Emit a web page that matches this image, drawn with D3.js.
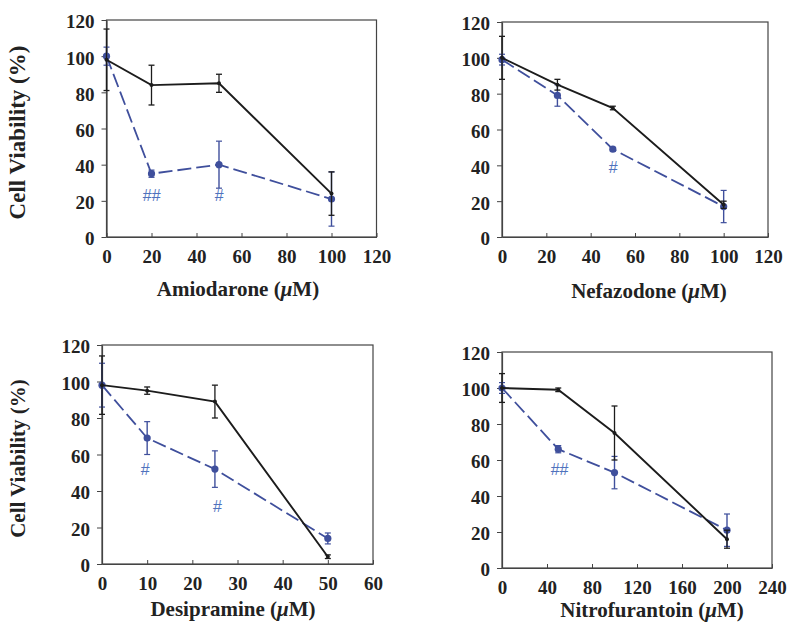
<!DOCTYPE html>
<html>
<head>
<meta charset="utf-8">
<script src="https://cdn.jsdelivr.net/npm/d3@7"></script>
<style>
  body { margin: 0; background: #fff; }
</style>
</head>
<body>
<svg id="chart" width="788" height="623"></svg>
<script>
// dati (valori medi e barre d'errore)
const amioDose = [0, 20, 50, 100];
const amioCtrl = [98, 84, 85, 24];
const amioCtrlErr = [17, 11, 5, 12];
const amioTreat = [100, 35, 40, 21];
const amioTreatErr = [5, 2, 13, 15];
const amioMarks = [{x: 20, y: 20, t: "##"}, {x: 50, y: 20, t: "#"}];

const nefaDose = [0, 25, 50, 100];
const nefaCtrl = [100, 85, 72, 18];
const nefaCtrlErr = [12, 3, 1, 2];
const nefaTreat = [99, 79, 49, 17];
const nefaTreatErr = [3, 6, 1, 9];
const nefaMarks = [{x: 50, y: 36, t: "#"}];

const desiDose = [0, 10, 25, 50];
const desiCtrl = [98, 95, 89, 4];
const desiCtrlErr = [16, 2, 9, 1];
const desiTreat = [98, 69, 52, 14];
const desiTreatErr = [12, 9, 10, 3];
const desiMarks = [{x: 9.5, y: 49, t: "#"}, {x: 25.5, y: 28.5, t: "#"}];

const nitroDose = [0, 50, 100, 200];
const nitroCtrl = [100, 99, 75, 16];
const nitroCtrlErr = [8, 1, 15, 5];
const nitroTreat = [100, 66, 53, 21];
const nitroTreatErr = [3, 2, 9, 9];
const nitroMarks = [{x: 51, y: 51.5, t: "##"}];

const yTicks = [0, 20, 40, 60, 80, 100, 120];
const yLabel = "Cell Viability (%)";

const BLUE = "#3f4f9c";
const HASH = "#4f72bd";
const BLACK = "#1c1c1c";
const SERIF = "Liberation Serif";

const panels = [
  {name: "Amiodarone", dose: amioDose, ctrl: amioCtrl, ctrlErr: amioCtrlErr, treat: amioTreat, treatErr: amioTreatErr,
   marks: amioMarks, xMax: 120, xTicks: [0, 20, 40, 60, 80, 100, 120],
   box: {l: 106.5, r: 376.5, t: 20, b: 237}, titleX: 238, titleY: 296, showY: true, yFont: 23},
  {name: "Nefazodone", dose: nefaDose, ctrl: nefaCtrl, ctrlErr: nefaCtrlErr, treat: nefaTreat, treatErr: nefaTreatErr,
   marks: nefaMarks, xMax: 120, xTicks: [0, 20, 40, 60, 80, 100, 120],
   box: {l: 502, r: 768, t: 22, b: 237}, titleX: 649, titleY: 298, showY: false},
  {name: "Desipramine", dose: desiDose, ctrl: desiCtrl, ctrlErr: desiCtrlErr, treat: desiTreat, treatErr: desiTreatErr,
   marks: desiMarks, xMax: 60, xTicks: [0, 10, 20, 30, 40, 50, 60],
   box: {l: 102, r: 373, t: 345, b: 564}, titleX: 233, titleY: 616, showY: true, yFont: 21},
  {name: "Nitrofurantoin", dose: nitroDose, ctrl: nitroCtrl, ctrlErr: nitroCtrlErr, treat: nitroTreat, treatErr: nitroTreatErr,
   marks: nitroMarks, xMax: 240, xTicks: [0, 40, 80, 120, 160, 200, 240],
   box: {l: 502, r: 772, t: 352, b: 568}, titleX: 652, titleY: 617, showY: false}
];

const svg = d3.select("#chart");

panels.forEach(p => {
  const x = d3.scaleLinear().domain([0, p.xMax]).range([p.box.l, p.box.r]);
  const y = d3.scaleLinear().domain([0, 120]).range([p.box.b, p.box.t]);
  const g = svg.append("g");

  //cornice del grafico
  g.append("rect")
    .attr("x", p.box.l).attr("y", p.box.t)
    .attr("width", p.box.r - p.box.l).attr("height", p.box.b - p.box.t)
    .attr("fill", "none").attr("stroke", "#444").attr("stroke-width", 1.2);

  const xAxis = g.append("g")
    .attr("transform", `translate(0,${p.box.b})`)
    .call(d3.axisBottom(x).tickValues(p.xTicks).tickSizeInner(-4).tickSizeOuter(0).tickPadding(13));
  const yAxis = g.append("g")
    .attr("transform", `translate(${p.box.l},0)`)
    .call(d3.axisLeft(y).tickValues(yTicks).tickSizeInner(5).tickSizeOuter(0).tickPadding(7));

  [xAxis, yAxis].forEach(a => {
    a.attr("font-family", SERIF).attr("font-size", 19).attr("font-weight", "bold");
    a.select(".domain").attr("stroke", "#444").attr("stroke-width", 1.2);
    a.selectAll(".tick line").attr("stroke", "#444");
    a.selectAll(".tick text").attr("fill", "#222");
  });
  yAxis.selectAll(".tick text").attr("dy", "0.42em");

  //titolo asse x con mu in corsivo
  const title = g.append("text")
    .attr("x", p.titleX).attr("y", p.titleY)
    .attr("text-anchor", "middle")
    .attr("font-family", SERIF).attr("font-weight", "bold").attr("font-size", 21)
    .attr("fill", "#222");
  title.append("tspan").text(p.name + " (");
  title.append("tspan").attr("font-style", "italic").text("\u03bc");
  title.append("tspan").text("M)");

  if (p.showY) {
    g.append("text")
      .attr("transform", `translate(25,${(p.box.t + p.box.b) / 2 + 4}) rotate(-90)`)
      .attr("text-anchor", "middle")
      .attr("font-family", SERIF).attr("font-weight", "bold").attr("font-size", p.yFont)
      .attr("fill", "#222")
      .text(yLabel);
  }

  const rows = p.dose.map((d, i) => ({
    dose: d, ctrl: p.ctrl[i], ctrlErr: p.ctrlErr[i], treat: p.treat[i], treatErr: p.treatErr[i]
  }));

  const line = key => d3.line().x(d => x(d.dose)).y(d => y(d[key]));

  // serie trattata (blu tratteggiata)
  g.append("path").datum(rows)
    .attr("d", line("treat"))
    .attr("fill", "none").attr("stroke", BLUE).attr("stroke-width", 1.8)
    .attr("stroke-dasharray", "14,5");

  g.selectAll("g.errT").data(rows).enter().append("g").attr("class", "errT")
    .each(function (d) {
      const e = d3.select(this);
      e.append("line").attr("x1", x(d.dose)).attr("x2", x(d.dose))
        .attr("y1", y(d.treat - d.treatErr)).attr("y2", y(d.treat + d.treatErr))
        .attr("stroke", BLUE).attr("stroke-width", 1.4);
      [d.treat - d.treatErr, d.treat + d.treatErr].forEach(v => {
        e.append("line").attr("x1", x(d.dose) - 3).attr("x2", x(d.dose) + 3)
          .attr("y1", y(v)).attr("y2", y(v))
          .attr("stroke", BLUE).attr("stroke-width", 1.2);
      });
    });

  g.selectAll("circle.pt").data(rows).enter().append("circle")
    .attr("class", "pt")
    .attr("cx", d => x(d.dose)).attr("cy", d => y(d.treat))
    .attr("r", 3.6).attr("fill", BLUE);

  // serie controllo (nera continua)
  g.append("path").datum(rows)
    .attr("d", line("ctrl"))
    .attr("fill", "none").attr("stroke", BLACK).attr("stroke-width", 1.9);

  g.selectAll("g.errC").data(rows).enter().append("g").attr("class", "errC")
    .each(function (d) {
      const e = d3.select(this);
      e.append("line").attr("x1", x(d.dose)).attr("x2", x(d.dose))
        .attr("y1", y(d.ctrl - d.ctrlErr)).attr("y2", y(d.ctrl + d.ctrlErr))
        .attr("stroke", BLACK).attr("stroke-width", 1.3);
      [d.ctrl - d.ctrlErr, d.ctrl + d.ctrlErr].forEach(v => {
        e.append("line").attr("x1", x(d.dose) - 3).attr("x2", x(d.dose) + 3)
          .attr("y1", y(v)).attr("y2", y(v))
          .attr("stroke", BLACK).attr("stroke-width", 1.3);
      });
    });

  g.selectAll("circle.pc").data(rows).enter().append("circle")
    .attr("class", "pc")
    .attr("cx", d => x(d.dose)).attr("cy", d => y(d.ctrl))
    .attr("r", 2).attr("fill", BLACK);

  // segni di significativita
  g.selectAll("text.hash").data(p.marks).enter().append("text")
    .attr("class", "hash")
    .attr("x", d => x(d.x)).attr("y", d => y(d.y))
    .attr("text-anchor", "middle")
    .attr("font-family", "Liberation Sans")
    .attr("font-size", 16)
    .attr("font-style", "italic")
    .attr("fill", HASH)
    .text(d => d.t);
});
</script>
</body>
</html>
